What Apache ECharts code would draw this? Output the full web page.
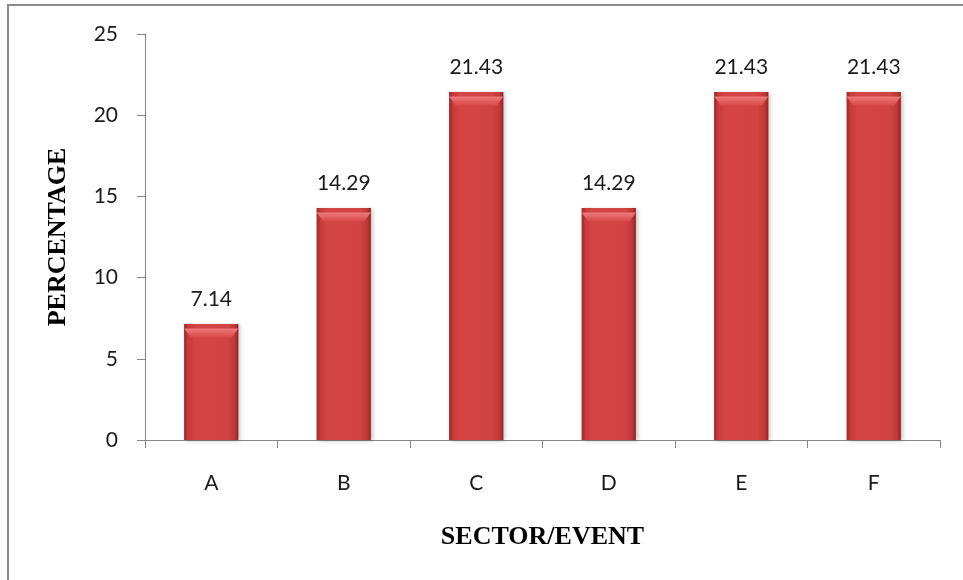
<!DOCTYPE html>
<html>
<head>
<meta charset="utf-8">
<script src="https://cdn.jsdelivr.net/npm/echarts@6/dist/echarts.min.js"></script>
<style>
  html, body { margin: 0; padding: 0; background: #ffffff; }
  #chart { width: 963px; height: 580px; }
</style>
</head>
<body>
<div id="chart"></div>
<script>
// Share of cases per sector/event (percent)
const sectors = ['A', 'B', 'C', 'D', 'E', 'F'];
const percentages = [7.14, 14.29, 21.43, 14.29, 21.43, 21.43];
const yTicks = { min: 0, max: 25, interval: 5 };

const tickFont = 'Lato, "Open Sans", sans-serif';
const titleFont = '"Liberation Serif", "DejaVu Serif", serif';
const axisGrey = '#868686';

const chart = echarts.init(document.getElementById('chart'), null, { renderer: 'canvas' });

chart.setOption({
  backgroundColor: '#ffffff',
  animation: false,
  graphic: [{
    type: 'rect',
    shape: { x: 8, y: 5, width: 1200, height: 1200 },
    style: { fill: 'none', stroke: '#8a8a8a', lineWidth: 2 },
    silent: true
  }],
  grid: { left: 145, right: 23, top: 34, bottom: 140 },
  xAxis: {
    type: 'category',
    data: sectors,
    name: 'SECTOR/EVENT',
    nameLocation: 'middle',
    nameGap: 84,
    nameTextStyle: { fontFamily: titleFont, fontWeight: 'bold', fontSize: 26, color: '#000000' },
    axisLine: { lineStyle: { color: axisGrey, width: 1 } },
    axisTick: { show: true, length: 8, inside: false, lineStyle: { color: axisGrey } },
    axisLabel: { margin: 33, fontFamily: tickFont, fontSize: 21, color: '#1a1a1a' }
  },
  yAxis: {
    type: 'value',
    min: yTicks.min,
    max: yTicks.max,
    interval: yTicks.interval,
    name: 'PERCENTAGE',
    nameLocation: 'middle',
    nameGap: 74,
    nameRotate: 90,
    nameTextStyle: { fontFamily: titleFont, fontWeight: 'bold', fontSize: 26, color: '#000000' },
    splitLine: { show: false },
    axisLine: { show: true, lineStyle: { color: axisGrey, width: 1 } },
    axisTick: { show: true, length: 8, inside: false, lineStyle: { color: axisGrey } },
    axisLabel: { margin: 27, fontFamily: tickFont, fontSize: 21, color: '#1a1a1a' }
  },
  series: [{
    type: 'bar',
    data: percentages,
    barWidth: '41%',
    barGap: '-100%',
    itemStyle: {
      color: new echarts.graphic.LinearGradient(0, 0, 1, 0, [
        { offset: 0, color: '#9c2626' },
        { offset: 0.07, color: '#c63b3b' },
        { offset: 0.2, color: '#d44444' },
        { offset: 0.8, color: '#d24343' },
        { offset: 0.93, color: '#c03838' },
        { offset: 1, color: '#962323' }
      ]),
      shadowColor: 'rgba(0,0,0,0.22)',
      shadowBlur: 4,
      shadowOffsetX: 2,
      shadowOffsetY: 1
    },
    label: {
      show: true,
      position: 'top',
      distance: 14,
      fontFamily: tickFont,
      fontSize: 21,
      color: '#1a1a1a',
      formatter: p => p.value.toFixed(2)
    }
  }, {
    // bevelled highlight cap on top of each bar
    type: 'pictorialBar',
    data: percentages,
    barWidth: '41%',
    barGap: '-100%',
    symbol: 'path://M0,0 L20,0 L17.5,3 L2.5,3 Z',
    symbolSize: ['100%', 9],
    symbolPosition: 'end',
    symbolOffset: [0, '50%'],
    z: 3,
    silent: true,
    itemStyle: {
      color: new echarts.graphic.LinearGradient(0, 0, 0, 1, [
        { offset: 0, color: '#ee7a7a' },
        { offset: 1, color: '#d84848' }
      ])
    }
  }]
});
</script>
</body>
</html>
